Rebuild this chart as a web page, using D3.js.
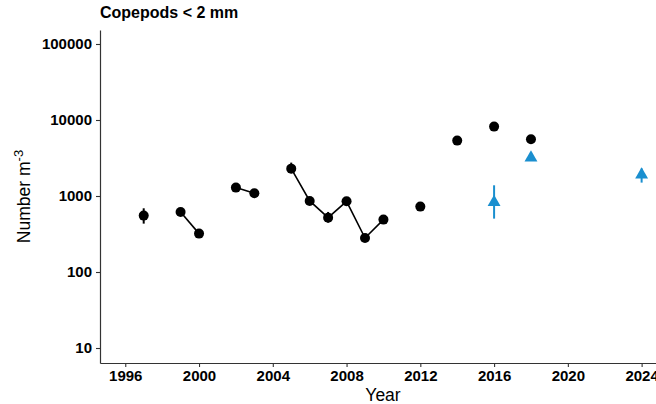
<!DOCTYPE html>
<html>
<head>
<meta charset="utf-8">
<script src="https://cdn.jsdelivr.net/npm/d3@7"></script>
<style>
  html, body { margin: 0; padding: 0; background: #fff; }
  svg { display: block; font-family: "Liberation Sans", Arial, sans-serif; }
</style>
</head>
<body>
<svg id="chart" width="656" height="404"></svg>
<script>
// Copepods < 2 mm: abundance per year (log scale)
const netYears   = [1997, 1999, 2000, 2002, 2003, 2005, 2006, 2007, 2008, 2009, 2010, 2012, 2014, 2016, 2018];
const netValues  = [552, 616, 320, 1290, 1086, 2290, 861, 519, 851, 280, 489, 725, 5355, 8185, 5570];
const netLow     = [433, 590, 305, 1230, 1040, 2000, 820, 447, 815, 268, 468, 700, 5150, 7900, 5350];
const netHigh    = [689, 645, 335, 1350, 1130, 2750, 900, 617, 890, 292, 510, 750, 5550, 8450, 5800];

const newYears   = [2016, 2018, 2024];
const newValues  = [826, 3180, 1905];
const newLow     = [504, 2900, 1500];
const newHigh    = [1383, 3500, 2300];

const xTicks = [1996, 2000, 2004, 2008, 2012, 2016, 2020, 2024];
const yTicks = [10, 100, 1000, 10000, 100000];

const black = "#000000";
const blue = "#1A8FCF";

const svg = d3.select("#chart");
const m = { left: 100, right: 656, top: 30, bottom: 363 };

const x = d3.scaleLinear().domain([1994.63, 2024.78]).range([m.left, m.right]);
const y = d3.scaleLog().domain([6.35, 152800]).range([m.bottom, m.top]);

// axes
const xAxis = svg.append("g")
  .attr("transform", `translate(0,${m.bottom})`)
  .call(d3.axisBottom(x).tickValues(xTicks).tickFormat(d3.format("d")).tickSize(4).tickSizeOuter(0).tickPadding(3));
const yAxis = svg.append("g")
  .attr("transform", `translate(${m.left},0)`)
  .call(d3.axisLeft(y).tickValues(yTicks).tickFormat(d3.format("d")).tickSize(4).tickSizeOuter(0).tickPadding(4));

[xAxis, yAxis].forEach(g => {
  g.select(".domain").attr("stroke", "#333").attr("stroke-width", 1.2);
  g.selectAll(".tick line").attr("stroke", "#333").attr("stroke-width", 1.1);
  g.selectAll(".tick text")
    .attr("fill", "#000")
    .attr("font-size", 15)
    .attr("font-weight", "bold")
    .attr("font-family", "Liberation Sans, Arial, sans-serif");
});

// connecting lines between consecutive years
const pts = netYears.map((yr, i) => ({ yr, v: netValues[i], lo: netLow[i], hi: netHigh[i] }));
const runs = [];
pts.forEach((p, i) => {
  if (i > 0 && p.yr - pts[i - 1].yr === 1) runs[runs.length - 1].push(p);
  else runs.push([p]);
});
const line = d3.line().x(d => x(d.yr)).y(d => y(d.v));
svg.append("g").selectAll("path")
  .data(runs.filter(r => r.length > 1))
  .join("path")
  .attr("d", line)
  .attr("fill", "none")
  .attr("stroke", black)
  .attr("stroke-width", 1.6);

// error bars
svg.append("g").selectAll("line")
  .data(pts)
  .join("line")
  .attr("x1", d => x(d.yr)).attr("x2", d => x(d.yr))
  .attr("y1", d => y(d.lo)).attr("y2", d => y(d.hi))
  .attr("stroke", black).attr("stroke-width", 2);

const tri = newYears.map((yr, i) => ({ yr, v: newValues[i], lo: newLow[i], hi: newHigh[i] }));
svg.append("g").selectAll("line")
  .data(tri)
  .join("line")
  .attr("x1", d => x(d.yr)).attr("x2", d => x(d.yr))
  .attr("y1", d => y(d.lo)).attr("y2", d => y(d.hi))
  .attr("stroke", blue).attr("stroke-width", 2);

// points
svg.append("g").selectAll("circle")
  .data(pts)
  .join("circle")
  .attr("cx", d => x(d.yr))
  .attr("cy", d => y(d.v))
  .attr("r", 5)
  .attr("fill", black);

svg.append("g").selectAll("path")
  .data(tri)
  .join("path")
  .attr("d", d3.symbol(d3.symbolTriangle, 72))
  .attr("transform", d => `translate(${x(d.yr)},${y(d.v)})`)
  .attr("fill", blue);

// title
svg.append("text")
  .attr("x", m.left).attr("y", 18)
  .attr("font-size", 16).attr("font-weight", "bold")
  .attr("fill", "#000")
  .text("Copepods < 2 mm");

// axis titles
svg.append("text")
  .attr("x", 383).attr("y", 401)
  .attr("text-anchor", "middle")
  .attr("font-size", 17.5)
  .attr("fill", "#000")
  .text("Year");

const yLab = svg.append("text")
  .attr("transform", `translate(30,${(m.top + m.bottom) / 2}) rotate(-90)`)
  .attr("text-anchor", "middle")
  .attr("font-size", 17.5)
  .attr("fill", "#000");
yLab.append("tspan").text("Number m");
yLab.append("tspan").attr("dy", -7).attr("font-size", 13).text("-3");
</script>
</body>
</html>
